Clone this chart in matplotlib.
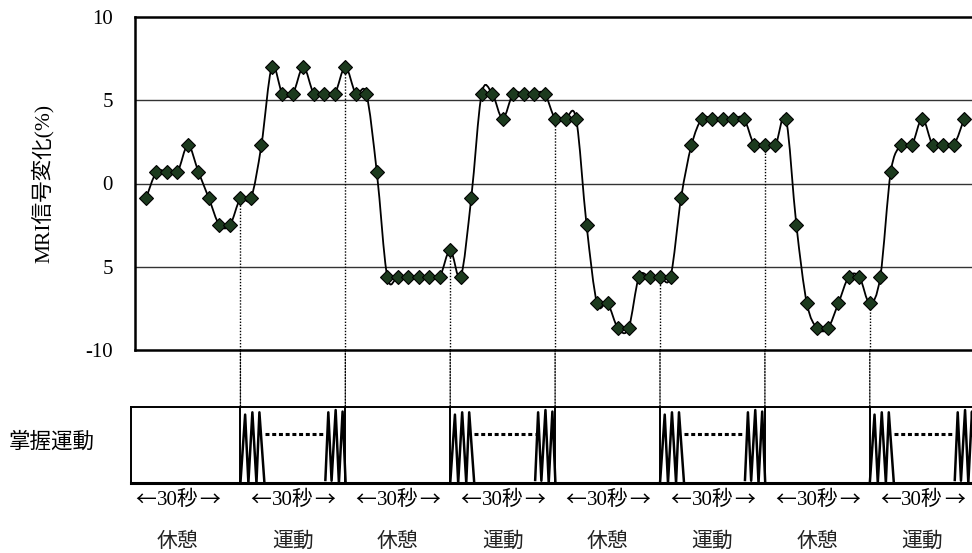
import numpy as np
import matplotlib
matplotlib.use('Agg')
import matplotlib.pyplot as plt
from matplotlib.path import Path
from matplotlib.patches import PathPatch, ConnectionPatch
from matplotlib.ticker import FixedLocator, FixedFormatter

plt.rcParams['font.family'] = ['Liberation Serif', 'Noto Sans CJK JP']

# MRI信号変化(%) — 3秒ごとの計測値
signal = [-0.9, 0.7, 0.7, 0.7, 2.3, 0.7, -0.9, -2.5, -2.5, -0.9,
          -0.9, 2.3, 7.0, 5.4, 5.4, 7.0, 5.4, 5.4, 5.4, 7.0,
          5.4, 5.4, 0.7, -5.6, -5.6, -5.6, -5.6, -5.6, -5.6, -4.0,
          -5.6, -0.9, 5.4, 5.4, 3.9, 5.4, 5.4, 5.4, 5.4, 3.9,
          3.9, 3.9, -2.5, -7.2, -7.2, -8.7, -8.7, -5.6, -5.6, -5.6,
          -5.6, -0.9, 2.3, 3.9, 3.9, 3.9, 3.9, 3.9, 2.3, 2.3,
          2.3, 3.9, -2.5, -7.2, -8.7, -8.7, -7.2, -5.6, -5.6, -7.2,
          -5.6, 0.7, 2.3, 2.3, 3.9, 2.3, 2.3, 2.3, 3.9]
time_idx = np.arange(len(signal))

# 休憩/運動の切り替え点（計測番号）
boundaries = [9, 19, 29, 39, 49, 59, 69]
motion_starts = [9, 29, 49, 69]
motion_ends = [19, 39, 59, 79]
block_names = ['休憩', '運動', '休憩', '運動', '休憩', '運動', '休憩', '運動']
block_centers = [3, 14, 24, 34, 44, 54, 64, 74]
ytick_vals = [10, 5, 0, -5, -10]
ytick_text = ['10', '5', '0', '5', '-10']


def smooth_path(x, y):
    """Excel風の平滑化線（ベジェ曲線）"""
    n = len(x)
    verts = [(x[0], y[0])]
    codes = [Path.MOVETO]
    for k in range(n - 1):
        a = k - 1 if k > 0 else k
        d = k + 2 if k + 2 < n else k + 1
        c1 = (x[k] + (x[k + 1] - x[a]) / 6, y[k] + (y[k + 1] - y[a]) / 6)
        c2 = (x[k + 1] - (x[d] - x[k]) / 6, y[k + 1] - (y[d] - y[k]) / 6)
        verts += [c1, c2, (x[k + 1], y[k + 1])]
        codes += [Path.CURVE4] * 3
    return Path(verts, codes)


W, H = 972, 553
fig = plt.figure(figsize=(W / 100, H / 100), dpi=100)

px = 10.49   # 1計測あたりのピクセル
x0 = 146     # 最初の計測点の位置
xr = (W - x0) / px

# 上段：MRI信号
ax1 = fig.add_axes([135 / W, (H - 350) / H, (W - 135) / W, 333 / H])
ax1.set_xlim((135 - x0) / px, xr)
ax1.set_ylim(-10, 10)

ax1.add_patch(PathPatch(smooth_path(time_idx, signal), fill=False,
                        edgecolor='black', lw=1.3, zorder=2))
ax1.plot(time_idx, signal, linestyle='none', marker='D', markersize=7,
         markerfacecolor='#1c3a1e', markeredgecolor='black',
         markeredgewidth=0.8, zorder=3)

for y in [5, 0, -5]:
    ax1.axhline(y, color='#333333', lw=1.0, zorder=1)

ax1.yaxis.set_major_locator(FixedLocator(ytick_vals))
ax1.yaxis.set_major_formatter(FixedFormatter(ytick_text))
ax1.tick_params(axis='y', length=0, pad=16, labelsize=15)
ax1.set_xticks([])
ax1.spines['right'].set_visible(False)
for s in ['top', 'bottom', 'left']:
    ax1.spines[s].set_linewidth(1.8)
ax1.set_ylabel('MRI信号変化(%)', fontsize=15.5)
ax1.yaxis.set_label_coords((54 - 135) / (W - 135), 0.5)

# 下段：掌握運動
ax2 = fig.add_axes([131 / W, (H - 483) / H, (W - 131) / W, 76 / H])
ax2.set_xlim((131 - x0) / px, xr)
ax2.set_ylim(0, 1)
ax2.set_xticks([])
ax2.set_yticks([])
ax2.spines['right'].set_visible(False)
ax2.spines['top'].set_linewidth(1.4)
ax2.spines['left'].set_linewidth(1.4)
ax2.spines['bottom'].set_linewidth(2.2)
ax2.vlines(boundaries, 0, 1, color='black', lw=1.4)

zig_start_dx = [0, 0.45, 0.76, 1.14, 1.53, 1.81, 2.29]
zig_start_y = [0, 0.9, 0, 0.93, 0, 0.93, 0]
zig_end_dx = [-1.9, -1.62, -1.31, -0.92, -0.61, -0.26, 0.03]
zig_end_y = [0.04, 0.93, 0.03, 0.96, 0.0, 0.94, 0.0]
for s, e in zip(motion_starts, motion_ends):
    ax2.plot([s + d for d in zig_start_dx], zig_start_y, color='black', lw=1.8)
    ax2.plot([e + d for d in zig_end_dx], zig_end_y, color='black', lw=1.8)
    ax2.plot([s + 2.3, e - 1.95], [0.64, 0.64], color='black', lw=2.2,
             linestyle=(0, (1.3, 0.9)))

# 切り替え点の点線
for b in boundaries:
    ax1.vlines(b, -10, signal[b], color='black', lw=1.0,
               linestyle=(0, (1, 1.2)), zorder=1)
    con = ConnectionPatch(xyA=(b, -10), coordsA=ax1.transData,
                          xyB=(b, 1), coordsB=ax2.get_xaxis_transform(),
                          color='black', lw=1.0, linestyle=(0, (1, 1.2)))
    fig.add_artist(con)

# ブロックのラベル
tr = ax2.get_xaxis_transform()
y_sec = (483 - 500) / 76
y_name = (483 - 542) / 76
for c, name in zip(block_centers, block_names):
    ax2.text(c, y_sec, '30秒', transform=tr, ha='center', va='center', fontsize=15)
    ax2.annotate('←', xy=(c, y_sec), xycoords=tr, xytext=(-15.5, 0),
                 textcoords='offset points', ha='right', va='center',
                 fontsize=15, family=['Noto Sans CJK JP'])
    ax2.annotate('→', xy=(c, y_sec), xycoords=tr, xytext=(15.5, 0),
                 textcoords='offset points', ha='left', va='center',
                 fontsize=15, family=['Noto Sans CJK JP'])
    ax2.text(c, y_name, name, transform=tr, ha='center', va='center',
             fontsize=15, color='#222222')

fig.text(9 / W, 1 - 443 / H, '掌握運動', ha='left', va='center', fontsize=15.5)

fig.savefig('out.png', dpi=100)
